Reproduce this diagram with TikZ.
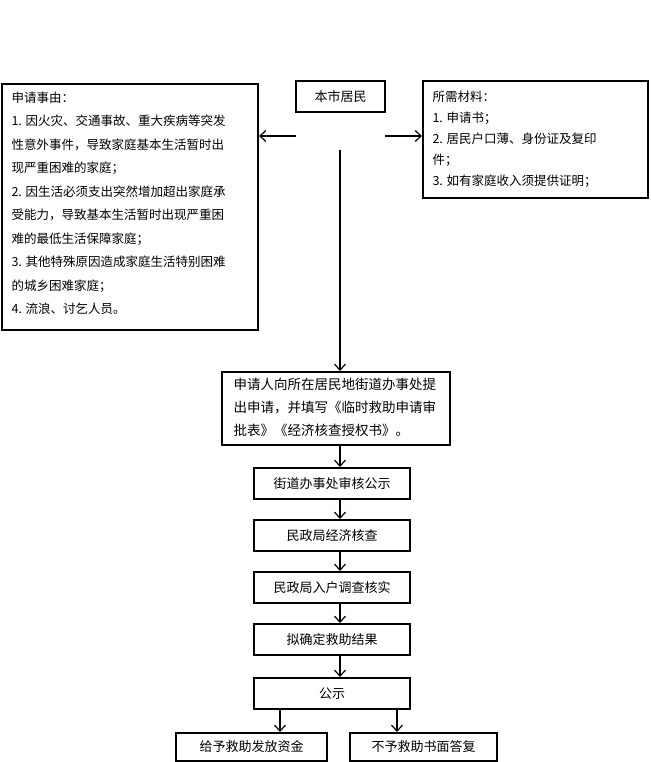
\documentclass[tikz,border=0pt]{standalone}
\usepackage{fontspec}
\setmainfont{Noto Sans CJK SC}
\usetikzlibrary{arrows.meta}
\begin{document}
\begin{tikzpicture}[x=1pt,y=-1pt,
  box/.style={draw,line width=1.2pt,inner sep=0pt},
  txt/.style={font=\fontsize{12.5}{23.5}\selectfont,align=left,anchor=north west},
  ctr/.style={font=\fontsize{13}{16}\selectfont},
  arr/.style={line width=1.2pt,-{Straight Barb[length=6pt,width=11pt]}}]
\useasboundingbox (0,0) rectangle (650,762);
% top
\draw[box] (296,81) rectangle (385,112);
\node[ctr] (top) at (340.5,96.5) {本市居民};
\draw[box] (2,84) rectangle (258,330);
\node[txt] (left) at (8,88) {申请事由：\\1. 因火灾、交通事故、重大疾病等突发\\性意外事件，导致家庭基本生活暂时出\\现严重困难的家庭；\\2. 因生活必须支出突然增加超出家庭承\\受能力，导致基本生活暂时出现严重困\\难的最低生活保障家庭；\\3. 其他特殊原因造成家庭生活特别困难\\的城乡困难家庭；\\4. 流浪、讨乞人员。};
\draw[box] (423,81) rectangle (648,198);
\node[txt,font=\fontsize{12.5}{21}\selectfont] (right) at (429,87) {所需材料：\\1. 申请书；\\2. 居民户口薄、身份证及复印\\件；\\3. 如有家庭收入须提供证明；};
\coordinate (la) at (296,136);
\coordinate (lb) at (259,136);
\coordinate (ra) at (385,136);
\coordinate (rb) at (422,136);
\draw[arr] (la) -- (lb);
\draw[arr] (ra) -- (rb);
\coordinate (vs) at (340,150);
% main chain
\draw[box] (222,372) rectangle (450,445);
\node[txt,font=\fontsize{13.5}{23}\selectfont] (m1) at (230,375) {申请人向所在居民地街道办事处提\\出申请，并填写《临时救助申请审\\批表》《经济核查授权书》。};
\draw[arr] (vs) -- (340,371);
\foreach \n/\y/\t in {b2/468/街道办事处审核公示,b3/520/民政局经济核查,b4/572/民政局入户调查核实,b5/624/拟确定救助结果,b6/678/公示}{
  \draw[box] (254,\y) rectangle (410,\y+31);
  \node[ctr] (\n) at (332,\y+15.5) {\t};
}
\draw[arr] (340,445) -- (340,467);
\draw[arr] (340,499) -- (340,519);
\draw[arr] (340,551) -- (340,571);
\draw[arr] (340,603) -- (340,623);
\draw[arr] (340,655) -- (340,677);
\draw[box] (176,733) rectangle (327,761);
\node[ctr] (b7) at (251.5,747) {给予救助发放资金};
\draw[box] (350,733) rectangle (497,761);
\node[ctr] (b8) at (423.5,747) {不予救助书面答复};
\draw[arr] (280,709) -- (280,732);
\draw[arr] (397,709) -- (397,732);
\end{tikzpicture}
\end{document}
